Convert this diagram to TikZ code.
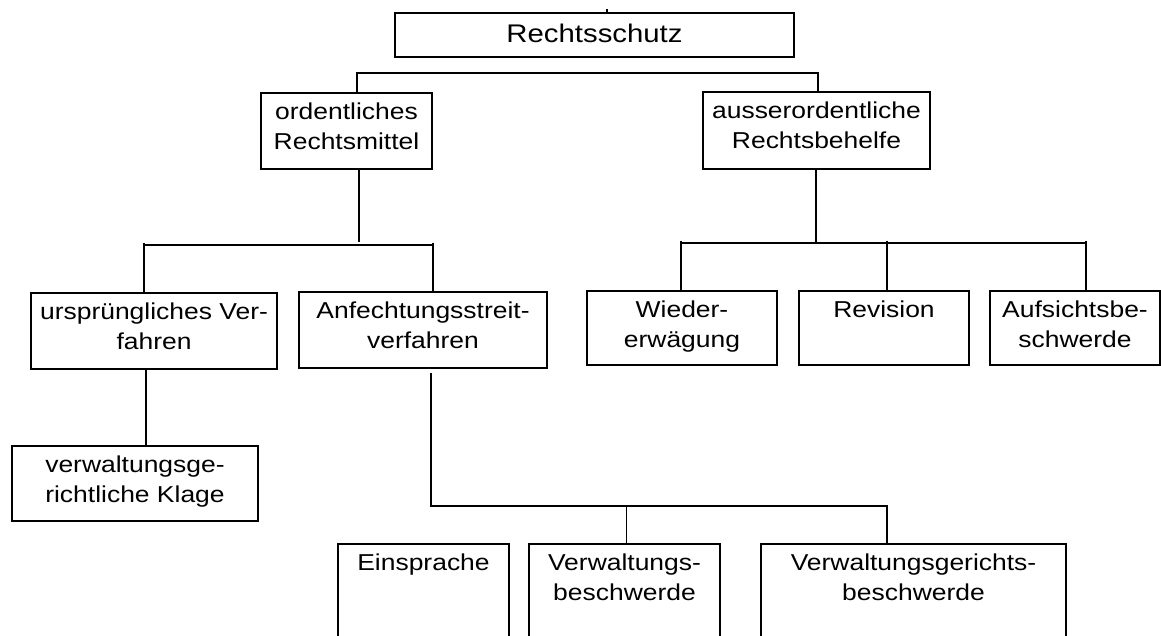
\documentclass[tikz,border=0pt]{standalone}
\usepackage{fontspec}
\setmainfont[FakeStretch=1.15]{Liberation Sans}
\begin{document}
\begin{tikzpicture}[x=1pt,y=-1pt,
  box/.style={draw, line width=1.6pt, inner sep=0pt, outer sep=0pt, anchor=north west},
  lbl/.style={inner sep=0pt, align=center, anchor=base, font=\fontsize{23}{30}\selectfont},
  ttl/.style={inner sep=0pt, anchor=base, font=\fontsize{25.5}{30}\selectfont},
  conn/.style={line width=1.6pt}]
\useasboundingbox (0,0) rectangle (1161,635);
\clip (0,0) rectangle (1161,635);
% boxes
\node[box, minimum width=399pt, minimum height=44pt] (rs) at (395,13) {};
\node[box, minimum width=171pt, minimum height=76pt] (om) at (261,93) {};
\node[box, minimum width=227pt, minimum height=77pt] (ao) at (703,92) {};
\node[box, minimum width=246pt, minimum height=76pt] (uv) at (31,293) {};
\node[box, minimum width=248pt, minimum height=76pt] (af) at (299,292) {};
\node[box, minimum width=190pt, minimum height=74pt] (wi) at (587,291) {};
\node[box, minimum width=170pt, minimum height=74pt] (rv) at (799,291) {};
\node[box, minimum width=170pt, minimum height=74pt] (as) at (990,291) {};
\node[box, minimum width=246pt, minimum height=75pt] (vk) at (12,446) {};
\node[box, minimum width=171pt, minimum height=116pt] (es) at (338,544) {};
\node[box, minimum width=191pt, minimum height=116pt] (vb) at (529,544) {};
\node[box, minimum width=305pt, minimum height=116pt] (vg) at (761,544) {};
% texts (anchor base = baseline of last line)
\node[ttl] (rst) at ([yshift=-29pt]rs.north) {Rechtsschutz};
\node[lbl] (omt) at ([yshift=-56pt]om.north) {ordentliches\\Rechtsmittel};
\node[lbl] (aot) at ([yshift=-56pt]ao.north) {ausserordentliche\\Rechtsbehelfe};
\node[lbl] (uvt) at ([yshift=-56pt]uv.north) {ursprüngliches Ver-\\fahren};
\node[lbl] (aft) at ([yshift=-56pt]af.north) {Anfechtungsstreit-\\verfahren};
\node[lbl] (wit) at ([yshift=-56pt]wi.north) {Wieder-\\erwägung};
\node[lbl] (rvt) at ([yshift=-26pt]rv.north) {Revision};
\node[lbl] (ast) at ([yshift=-56pt]as.north) {Aufsichtsbe-\\schwerde};
\node[lbl] (vkt) at ([yshift=-56pt]vk.north) {verwaltungsge-\\richtliche Klage};
\node[lbl] (est) at ([yshift=-26pt]es.north) {Einsprache};
\node[lbl] (vbt) at ([yshift=-56pt]vb.north) {Verwaltungs-\\beschwerde};
\node[lbl] (vgt) at ([yshift=-56pt]vg.north) {Verwaltungsgerichts-\\beschwerde};
% connectors
\coordinate (tk) at (607,9);
\draw[conn] (tk) -- (tk |- rs.north);
\coordinate (t1) at (357,72.7);
\coordinate (t2) at (818,72.7);
\draw[conn] (t1 |- om.north) -- (t1) -- (t2) -- (t2 |- ao.north);
\coordinate (l0) at (359,242);
\draw[conn] (l0 |- om.south) -- (l0);
\coordinate (hl) at (0,244.7);
\coordinate (l1) at (144,242.5);
\coordinate (l2) at (433,242.5);
\draw[conn] (l1 |- hl) -- (l2 |- hl);
\draw[conn] (l1) -- (l1 |- uv.north);
\draw[conn] (l2) -- (l2 |- af.north);
\coordinate (u1) at (146,0);
\draw[conn] (u1 |- uv.south) -- (u1 |- vk.north);
\coordinate (a1) at (431,373);
\coordinate (a2) at (431,506);
\coordinate (a3) at (887,506);
\coordinate (a4) at (626.3,506);
\draw[conn] (a1) -- (a2) -- (a3) -- (a3 |- vg.north);
\draw[conn] (a4) -- (a4 |- vb.north);
\coordinate (ad) at (816,242.7);
\draw[conn] (ad |- ao.south) -- (ad);
\coordinate (hr) at (0,242.7);
\coordinate (r1) at (681,240.5);
\coordinate (r2) at (887,240.5);
\coordinate (r3) at (1086,240.5);
\draw[conn] (r1 |- hr) -- (r3 |- hr);
\draw[conn] (r1) -- (r1 |- wi.north);
\draw[conn] (r2) -- (r2 |- rv.north);
\draw[conn] (r3) -- (r3 |- as.north);
\end{tikzpicture}
\end{document}
